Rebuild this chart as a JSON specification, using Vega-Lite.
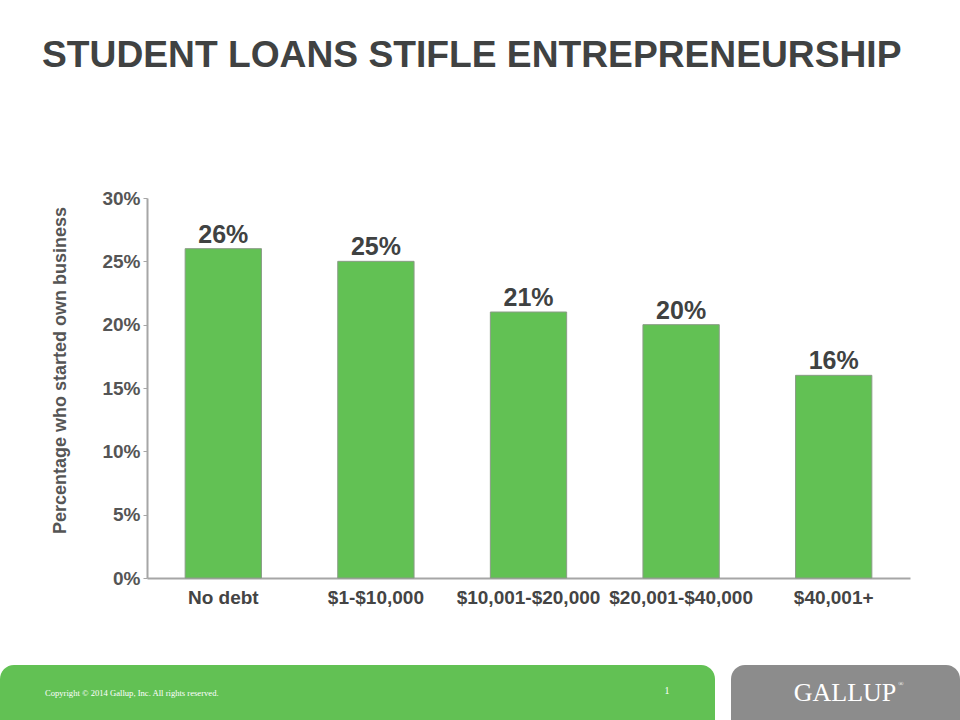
{
  "$schema": "https://vega.github.io/schema/vega-lite/v6.json",
  "width": 763,
  "height": 380,
  "autosize": {"type": "none"},
  "padding": {"left": 147, "top": 198, "right": 50, "bottom": 142},
  "background": "white",
  "title": {
    "text": "STUDENT LOANS STIFLE ENTREPRENEURSHIP",
    "font": "Liberation Sans",
    "fontWeight": "bold",
    "fontSize": 37.2,
    "color": "#404242",
    "anchor": "start",
    "frame": "group",
    "dx": -105,
    "offset": 85,
    "baseline": "alphabetic"
  },
  "datasets": {
    "bars": [
      {"category": "No debt", "pct": 0.26},
      {"category": "$1-$10,000", "pct": 0.25},
      {"category": "$10,001-$20,000", "pct": 0.21},
      {"category": "$20,001-$40,000", "pct": 0.20},
      {"category": "$40,001+", "pct": 0.16}
    ],
    "footerShapes": [
      {"part": "band", "x0": 0, "x1": 715, "y0": 665, "y1": 720},
      {"part": "logo", "x0": 731, "x1": 960, "y0": 665, "y1": 720}
    ],
    "footerText": [
      {"part": "copyright", "x": 45, "y": 693, "text": "Copyright © 2014 Gallup, Inc. All rights reserved."},
      {"part": "page", "x": 667, "y": 691, "text": "1"},
      {"part": "brand", "x": 845, "y": 693, "text": "GALLUP"},
      {"part": "reg", "x": 901, "y": 684, "text": "®"}
    ]
  },
  "layer": [
    {
      "data": {"name": "bars"},
      "encoding": {
        "x": {
          "field": "category",
          "type": "nominal",
          "sort": null,
          "scale": {"paddingInner": 0.5, "paddingOuter": 0.25},
          "axis": {
            "title": null,
            "labelAngle": 0,
            "labelFont": "Liberation Sans",
            "labelFontWeight": "bold",
            "labelFontSize": 19,
            "labelColor": "#444444",
            "labelPadding": 10,
            "ticks": false,
            "domainColor": "#a6a6a6",
            "domainWidth": 2
          }
        },
        "y": {
          "field": "pct",
          "type": "quantitative",
          "scale": {"domain": [0, 0.3]},
          "axis": {
            "title": "Percentage who started own business",
            "titleFont": "Liberation Sans",
            "titleFontWeight": "bold",
            "titleFontSize": 18,
            "titleColor": "#555555",
            "titleX": -87,
            "titleY": 172,
            "titleAngle": 270,
            "titleAlign": "center",
            "titleBaseline": "middle",
            "values": [0, 0.05, 0.1, 0.15, 0.2, 0.25, 0.3],
            "format": ".0%",
            "labelFont": "Liberation Sans",
            "labelFontWeight": "bold",
            "labelFontSize": 19,
            "labelColor": "#555555",
            "labelPadding": 3,
            "tickSize": 4,
            "tickColor": "#a6a6a6",
            "domainColor": "#a6a6a6",
            "domainWidth": 2,
            "grid": false
          }
        }
      },
      "layer": [
        {
          "mark": {"type": "bar", "color": "#62c154", "stroke": "#8a9c86", "strokeWidth": 1}
        },
        {
          "mark": {
            "type": "text",
            "baseline": "alphabetic",
            "dy": -6,
            "font": "Liberation Sans",
            "fontWeight": "bold",
            "fontSize": 25,
            "color": "#404242"
          },
          "encoding": {
            "text": {"field": "pct", "type": "quantitative", "format": ".0%"}
          }
        }
      ]
    },
    {
      "data": {"name": "footerShapes"},
      "mark": {"type": "rect", "cornerRadiusTopRight": 14, "cornerRadiusTopLeft": 14},
      "encoding": {
        "x": {"field": "x0", "type": "quantitative", "scale": {"domain": [0, 960], "range": [-147, 813]}, "axis": null},
        "x2": {"field": "x1"},
        "y": {"field": "y0", "type": "quantitative", "scale": {"domain": [0, 720], "range": [-198, 522]}, "axis": null},
        "y2": {"field": "y1"},
        "color": {
          "field": "part",
          "type": "nominal",
          "scale": {"domain": ["band", "logo"], "range": ["#62c154", "#8c8c8c"]},
          "legend": null
        }
      }
    },
    {
      "data": {"name": "footerText"},
      "encoding": {
        "x": {"field": "x", "type": "quantitative", "scale": {"domain": [0, 960], "range": [-147, 813]}, "axis": null},
        "y": {"field": "y", "type": "quantitative", "scale": {"domain": [0, 720], "range": [-198, 522]}, "axis": null},
        "text": {"field": "text"}
      },
      "layer": [
        {
          "transform": [{"filter": "datum.part === 'copyright'"}],
          "mark": {"type": "text", "font": "Liberation Serif", "color": "white", "baseline": "middle", "align": "left", "fontSize": 8.6}
        },
        {
          "transform": [{"filter": "datum.part === 'page'"}],
          "mark": {"type": "text", "font": "Liberation Serif", "color": "white", "baseline": "middle", "align": "center", "fontSize": 10}
        },
        {
          "transform": [{"filter": "datum.part === 'brand'"}],
          "mark": {"type": "text", "font": "Liberation Serif", "color": "white", "baseline": "middle", "align": "center", "fontSize": 26}
        },
        {
          "transform": [{"filter": "datum.part === 'reg'"}],
          "mark": {"type": "text", "font": "Liberation Serif", "color": "white", "baseline": "middle", "align": "center", "fontSize": 7}
        }
      ]
    }
  ],
  "resolve": {"scale": {"x": "independent", "y": "independent", "color": "independent"}},
  "config": {"view": {"stroke": null}}
}
